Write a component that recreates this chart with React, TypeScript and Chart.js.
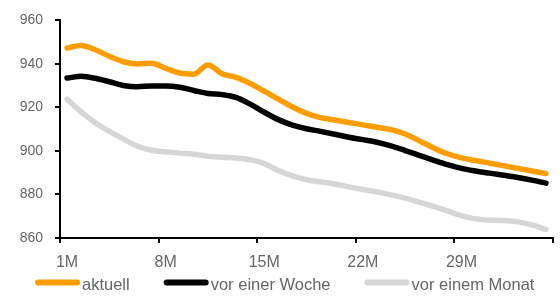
import React, { useEffect, useRef } from 'react';
import { Chart, registerables } from 'chart.js';

Chart.register(...registerables);

const categories = [
  '1M', '2M', '3M', '4M', '5M', '6M', '7M', '8M', '9M', '10M',
  '11M', '12M', '13M', '14M', '15M', '16M', '17M', '18M', '19M', '20M',
  '21M', '22M', '23M', '24M', '25M', '26M', '27M', '28M', '29M', '30M',
  '31M', '32M', '33M', '34M', '35M',
];

const aktuell = [
  947.3, 948.5, 946.5, 943.5, 941.0, 940.0, 940.3, 938.0, 935.8, 935.3,
  939.5, 935.5, 933.8, 931.0, 927.5, 923.8, 920.2, 917.3, 915.3, 914.2,
  913.1, 912.0, 910.9, 909.8, 907.8, 904.7, 901.5, 898.7, 896.8, 895.6,
  894.4, 893.2, 892.0, 890.8, 889.6,
];

const vorEinerWoche = [
  933.5, 934.3, 933.4, 931.8, 930.1, 929.5, 929.9, 929.9, 929.3, 927.8,
  926.4, 925.9, 924.6, 921.5, 917.8, 914.4, 911.9, 910.2, 909.0, 907.7,
  906.3, 905.2, 904.0, 902.3, 900.2, 898.0, 895.8, 893.7, 892.0, 890.8,
  889.8, 888.8, 887.8, 886.6, 885.2,
];

const vorEinemMonat = [
  923.8, 918.0, 913.0, 909.0, 905.5, 902.2, 900.3, 899.6, 899.0, 898.5,
  897.6, 897.1, 896.8, 896.0, 894.2, 891.0, 888.5, 886.8, 885.8, 884.8,
  883.5, 882.3, 881.2, 879.8, 878.3, 876.5, 874.5, 872.5, 870.3, 868.8,
  868.2, 868.0, 867.4, 866.0, 864.0,
];

const seriesNames = ['aktuell', 'vor einer Woche', 'vor einem Monat'];
const seriesColors = ['#ff9c00', '#000000', '#d6d6d6'];

const yMin = 860;
const yMax = 960;
const yStep = 20;
const xLabelEvery = 7;

const FONT = '"Liberation Sans", Arial, Helvetica, sans-serif';
const TEXT_COLOR = '#666666';

const legendPlugin = {
  id: 'bottomLegend',
  afterDraw(chart: any) {
    const ctx = chart.ctx as CanvasRenderingContext2D;
    ctx.save();
    ctx.font = `16.5px ${FONT}`;
    ctx.textBaseline = 'middle';
    ctx.textAlign = 'left';
    let x = 35;
    const yLine = 282.5;
    const yText = 285;
    chart.data.datasets.forEach((ds: any) => {
      ctx.strokeStyle = ds.borderColor;
      ctx.lineWidth = 6;
      ctx.lineCap = 'round';
      ctx.beginPath();
      ctx.moveTo(x + 3, yLine);
      ctx.lineTo(x + 42, yLine);
      ctx.stroke();
      ctx.fillStyle = TEXT_COLOR;
      ctx.fillText(ds.label, x + 47, yText);
      x += 47 + ctx.measureText(ds.label).width + 34;
    });
    ctx.restore();
  },
};

export default function App() {
  const canvasRef = useRef<HTMLCanvasElement | null>(null);

  useEffect(() => {
    if (!canvasRef.current) return;
    const values = [aktuell, vorEinerWoche, vorEinemMonat];
    const chart = new Chart(canvasRef.current, {
      type: 'line',
      data: {
        labels: categories,
        datasets: values.map((v, i) => ({
          label: seriesNames[i],
          data: v,
          borderColor: seriesColors[i],
          backgroundColor: seriesColors[i],
          borderWidth: 5.5,
          pointRadius: 0,
          pointHoverRadius: 0,
          cubicInterpolationMode: 'monotone' as const,
          borderCapStyle: 'round' as const,
          borderJoinStyle: 'round' as const,
          fill: false,
        })),
      },
      options: {
        animation: false,
        responsive: false,
        devicePixelRatio: 1,
        layout: { padding: { top: 15, right: 7, bottom: 30, left: 0 } },
        plugins: {
          legend: { display: false },
          tooltip: { enabled: false },
        },
        scales: {
          x: {
            type: 'category',
            offset: true,
            afterFit: (scale: any) => {
              scale.height = 32;
            },
            grid: {
              offset: true,
              drawOnChartArea: false,
              drawTicks: true,
              tickLength: 5,
              lineWidth: 2,
              color: (c: any) =>
                c.type !== 'tick' || c.index % xLabelEvery === 0 ? '#000' : 'rgba(0,0,0,0)',
            },
            border: { display: true, color: '#000', width: 2 },
            ticks: {
              autoSkip: false,
              maxRotation: 0,
              minRotation: 0,
              padding: 10,
              color: TEXT_COLOR,
              font: { family: FONT, size: 16 },
              callback: (_v: any, idx: number) =>
                idx % xLabelEvery === 0 && idx < categories.length - 1 ? categories[idx] : '',
            },
          },
          y: {
            min: yMin,
            max: yMax,
            afterFit: (scale: any) => {
              scale.width = 60;
            },
            grid: {
              drawOnChartArea: false,
              drawTicks: true,
              tickLength: 5,
              lineWidth: 2,
              color: '#000',
            },
            border: { display: true, color: '#000', width: 2 },
            ticks: {
              stepSize: yStep,
              padding: 12,
              color: TEXT_COLOR,
              font: { family: FONT, size: 14 },
            },
          },
        },
      },
      plugins: [legendPlugin],
    });
    return () => chart.destroy();
  }, []);

  return (
    <div style={{ position: 'fixed', left: 0, top: 0, width: 560, height: 300, background: '#fff' }}>
      <canvas ref={canvasRef} width={560} height={300} />
    </div>
  );
}
